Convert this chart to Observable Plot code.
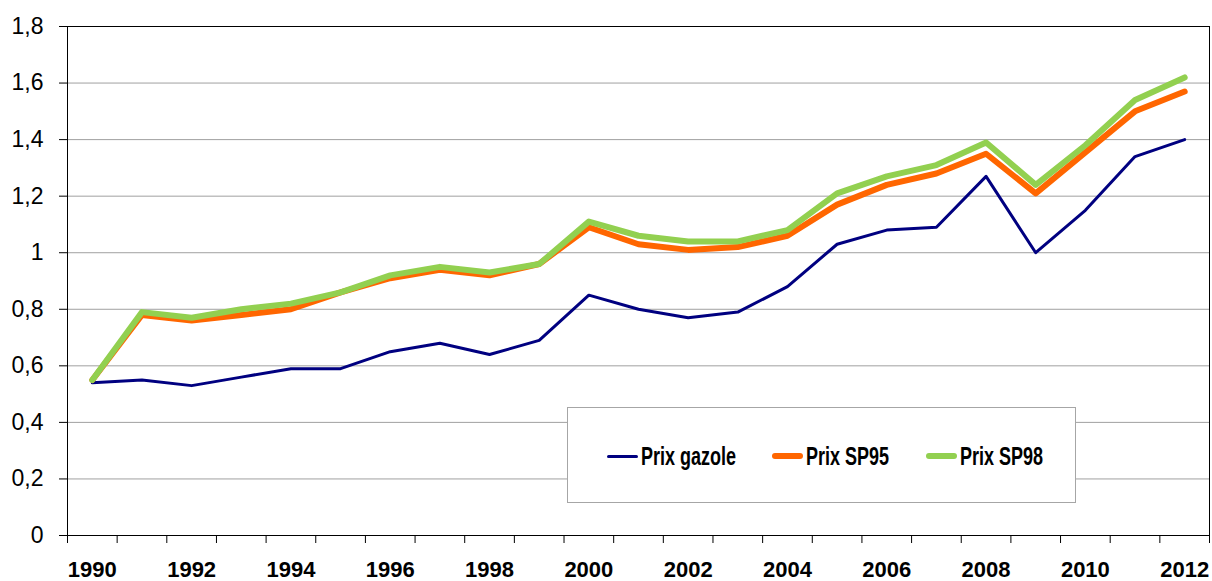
<!DOCTYPE html>
<html><head><meta charset="utf-8">
<script src="https://cdn.jsdelivr.net/npm/d3@7"></script>
<script src="https://cdn.jsdelivr.net/npm/@observablehq/plot@0.6"></script>
<style>
body{margin:0;background:#fff;}
#wrap{position:relative;width:1212px;height:581px;}
.legend{position:absolute;left:567px;top:407px;width:507px;height:94px;border:1px solid #a6a6a6;background:#fff;
  font-family:'Liberation Sans',Arial,sans-serif;font-weight:bold;font-size:25px;color:#000;}
.item{position:absolute;top:34px;display:flex;align-items:center;height:28px;white-space:nowrap;}
.sw{width:31px;margin-right:3px;border-radius:3px;flex:none;}
.tx{display:inline-block;transform:scaleX(0.72);transform-origin:left center;}
</style></head>
<body><div id="wrap"></div>
<script>
const years = [1990,1991,1992,1993,1994,1995,1996,1997,1998,1999,2000,2001,2002,2003,2004,2005,2006,2007,2008,2009,2010,2011,2012];
const gazole = [0.54,0.55,0.53,0.56,0.59,0.59,0.65,0.68,0.64,0.69,0.85,0.80,0.77,0.79,0.88,1.03,1.08,1.09,1.27,1.00,1.15,1.34,1.40];
const sp95 = [0.55,0.78,0.76,0.78,0.80,0.86,0.91,0.94,0.92,0.96,1.09,1.03,1.01,1.02,1.06,1.17,1.24,1.28,1.35,1.21,1.355,1.50,1.57];
const sp98 = [0.55,0.79,0.77,0.80,0.82,0.86,0.92,0.95,0.93,0.96,1.11,1.06,1.04,1.04,1.08,1.21,1.27,1.31,1.39,1.24,1.38,1.54,1.62];
const seriesNames = ["Prix gazole","Prix SP95","Prix SP98"];
const seriesColors = ["#000080","#FF6600","#92D050"];
const seriesWidths = [3,6,6];
const yTicks = [0,0.2,0.4,0.6,0.8,1,1.2,1.4,1.6,1.8];
const labelYears = years.filter(y => y % 2 === 0);

const allSeries = [gazole, sp95, sp98];
const tables = allSeries.map(vals => years.map((y,i) => ({year:y, value:vals[i]})));
const boundaries = [years[0]-0.5, ...years.map(y => y+0.5)];
const fmt = d => String(d).replace(".", ",");

const font = "'Liberation Sans',Arial,sans-serif";
const chart = Plot.plot({
  width:1212, height:581,
  marginLeft:67, marginRight:3, marginTop:26, marginBottom:46,
  style:{fontFamily:font, fontSize:"22px", color:"#000", background:"#fff"},
  x:{domain:[years[0]-0.5, years[years.length-1]+0.5], label:null},
  y:{domain:[0,1.8], label:null},
  marks:[
    Plot.gridY(yTicks, {stroke:"#a0a0a0", strokeOpacity:1, strokeWidth:1}),
    Plot.axisY(yTicks, {tickSize:8, tickPadding:16, tickFormat:fmt, fontSize:23, stroke:"#000", label:null}),
    Plot.axisX(boundaries, {tickSize:8, tickFormat:() => "", stroke:"#000", label:null}),
    Plot.axisX(labelYears, {tickSize:0, tickPadding:26, tickFormat:d => String(d), fontWeight:"bold", fontSize:22, label:null}),
    ...tables.map((t,i) => Plot.line(t, {x:"year", y:"value", stroke:seriesColors[i], strokeWidth:seriesWidths[i], strokeLinejoin:"round", strokeLinecap:"round"})),
    Plot.frame({stroke:"#000", strokeWidth:1})
  ]
});
const wrap = document.getElementById("wrap");
wrap.appendChild(chart);
const legend = document.createElement("div");
legend.className = "legend";
const lefts = [39, 204, 358];
seriesNames.forEach((n,i) => {
  const it = document.createElement("div");
  it.className = "item";
  it.style.left = lefts[i] + "px";
  const sw = document.createElement("span");
  sw.className = "sw";
  sw.style.height = seriesWidths[i] + "px";
  sw.style.background = seriesColors[i];
  const tx = document.createElement("span");
  tx.className = "tx";
  tx.textContent = n;
  it.appendChild(sw); it.appendChild(tx);
  legend.appendChild(it);
});
wrap.appendChild(legend);
</script></body></html>
